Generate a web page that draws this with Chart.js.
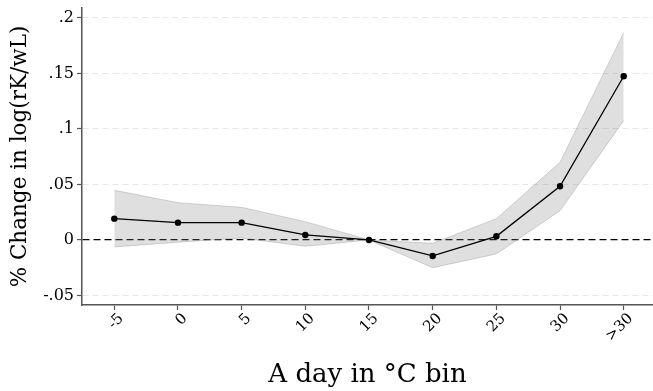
<!DOCTYPE html>
<html><head><meta charset="utf-8">
<script src="https://cdn.jsdelivr.net/npm/chart.js@4.4.1/dist/chart.umd.min.js"></script>
<style>html,body{margin:0;padding:0;background:#fff}#wrap{width:653px;height:391px}</style>
</head><body><div id="wrap"><canvas id="c" width="653" height="391"></canvas></div>
<script>
const categories = ["-5","0","5","10","15","20","25","30",">30"];
const coef  = [0.0192, 0.0156, 0.0156, 0.0045, 0.0000, -0.0144, 0.0033, 0.0484, 0.1475];
const upper = [0.0448, 0.0336, 0.0294, 0.0165, 0.0000, -0.0030, 0.0192, 0.0700, 0.1868];
const lower = [-0.0063, -0.0020, 0.0018, -0.0057, 0.0000, -0.0250, -0.0126, 0.0264, 0.1075];
const yTicks = [-0.05, 0, 0.05, 0.1, 0.15, 0.2];
const yTickLabels = ["-.05","0",".05",".1",".15",".2"];

const toPts = arr => arr.map((v,i)=>({x:i,y:v}));
const serif = "'DejaVu Serif', serif";

new Chart(document.getElementById('c'), {
  type: 'line',
  data: { datasets: [
    { data: toPts(lower), borderColor:'rgba(140,140,140,0.35)', borderWidth:1, pointRadius:0, fill:false, order:3 },
    { data: toPts(upper), borderColor:'rgba(140,140,140,0.35)', borderWidth:1, pointRadius:0, fill:'-1', backgroundColor:'rgba(128,128,128,0.25)', order:2 },
    { data: toPts(coef), borderColor:'#000', borderWidth:1.3, pointRadius:3.2, pointBackgroundColor:'#000', pointBorderWidth:0, fill:false, order:1 }
  ]},
  options: {
    responsive:false, animation:false,
    layout:{ autoPadding:false, padding:{ top:8, right:0, left:0, bottom:0 } },
    plugins:{ legend:{display:false}, tooltip:{enabled:false} },
    scales:{
      x:{ type:'linear', min:-0.507, max:8.46,
        afterBuildTicks: s => { s.ticks = categories.map((c,i)=>({value:i})); },
        afterFit: s => { s.height = 86; s.paddingLeft = 0; s.paddingRight = 0; },
        ticks:{ callback: v => categories[v], minRotation:45, maxRotation:45, color:'#000', font:{family:serif, size:15}, padding:0, labelOffset:7 },
        grid:{ drawOnChartArea:false, tickLength:5, tickColor:'#555', tickWidth:1.2 },
        border:{ color:'#555', width:1.5 },
        title:{ display:true, text:'A day in °C bin', color:'#000', font:{family:serif, size:26}, padding:{top:0,bottom:0} }
      },
      y:{ min:-0.0586, max:0.209,
        afterBuildTicks: s => { s.ticks = yTicks.map(v=>({value:v})); },
        afterFit: s => { s.width = 82; s.paddingTop = 0; s.paddingBottom = 0; },
        ticks:{ callback: (v,i) => yTickLabels[i], color:'#000', font:{family:serif, size:16}, padding:3 },
        grid:{ color: ctx => (ctx.tick && ctx.tick.value === 0) ? '#000' : '#e6e6e6',
               lineWidth: ctx => (ctx.tick && ctx.tick.value === 0) ? 1.2 : 1,
               tickLength:5, tickColor:'#555', tickWidth:1.2, z:0 },
        border:{ color:'#555', width:1.5, dash: ctx => (ctx.tick && ctx.tick.value === 0) ? [7,4] : [6,4] },
        title:{ display:true, text:'% Change in log(rK/wL)', color:'#000', font:{family:serif, size:21.5}, padding:{top:8,bottom:0} }
      }
    }
  }
});
</script></body></html>
